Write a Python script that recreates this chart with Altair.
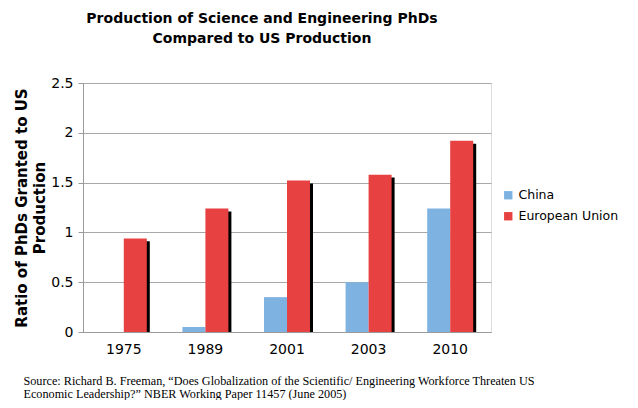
import altair as alt
import pandas as pd

years = ["1975", "1989", "2001", "2003", "2010"]
china = [0.0, 0.05, 0.35, 0.50, 1.24]
eu = [0.94, 1.24, 1.52, 1.58, 1.92]
series = ["China", "European Union"]
colors = ["#7eb3e1", "#e84142"]
y_ticks = [0, 0.5, 1, 1.5, 2, 2.5]
source = [
    "Source: Richard B. Freeman, \u201cDoes Globalization of the Scientific/ Engineering Workforce Threaten US",
    "Economic Leadership?\u201d NBER Working Paper 11457 (June 2005)",
]

df = pd.DataFrame({
    "year": years * 2,
    "series": [series[0]] * len(years) + [series[1]] * len(years),
    "value": china + eu,
})

x = alt.X(
    "year:N", sort=years,
    scale=alt.Scale(paddingInner=0, paddingOuter=0),
    axis=alt.Axis(
        title=source, labelAngle=0, labelFont="DejaVu Sans", labelFontSize=14,
        labelColor="#000000", labelPadding=10, domainColor="#9a9a9a", tickColor="#9a9a9a",
        ticks=False,
        titleFont="Liberation Serif", titleFontSize=12.2, titleFontWeight="normal",
        titleColor="#000000", titleAnchor="start", titleAlign="left",
        titleX=-60, titleY=52, titleBaseline="alphabetic", titleLineHeight=13,
    ),
)
y = alt.Y(
    "value:Q",
    scale=alt.Scale(domain=[0, 2.5], nice=False),
    axis=alt.Axis(
        title=["Ratio of PhDs Granted to US", "Production"], values=y_ticks, format="~g",
        labelFont="DejaVu Sans", labelFontSize=14, labelColor="#000000", labelPadding=5,
        gridColor="#a8a8a8", domainColor="#9a9a9a", tickColor="#9a9a9a", tickSize=5,
        titleFont="DejaVu Sans", titleFontSize=15, titleFontWeight="bold",
        titleColor="#000000", titlePadding=3, titleLineHeight=18,
    ),
)
color = alt.Color(
    "series:N",
    scale=alt.Scale(domain=series, range=colors),
    legend=alt.Legend(
        title=None, orient="none", legendX=419, legendY=106, symbolType="square",
        symbolSize=70, symbolStrokeWidth=0, labelFont="DejaVu Sans", labelFontSize=12.5,
        labelColor="#000000", rowPadding=8, labelOffset=4,
    ),
)

base = alt.Chart(df).encode(x=x, y=y)

shadow = base.transform_filter(alt.datum.series == series[1]).transform_calculate(
    top="datum.value - 0.03"
).mark_bar(width=23, xOffset=14.5, color="#000000").encode(y=alt.Y("top:Q"))
blue = base.transform_filter(alt.datum.series == series[0]).mark_bar(
    width=23, xOffset=-11.5
).encode(color=color)
red = base.transform_filter(alt.datum.series == series[1]).mark_bar(
    width=23, xOffset=11.5
).encode(color=color)

chart = alt.layer(shadow, blue, red).properties(
    width=408, height=249,
    autosize=alt.AutoSizeParams(type="none"),
    padding={"left": 75, "top": 75, "right": 139, "bottom": 68},
    title=alt.TitleParams(
        text=["Production of Science and Engineering PhDs", "Compared to US Production"],
        font="DejaVu Sans", fontSize=14, fontWeight="bold", color="#000000",
        anchor="middle", dx=-25, offset=30, lineHeight=20,
    ),
).configure_view(fill="#d9d9d9", strokeWidth=0).configure(background="#ffffff")

chart.save("out.html", embed_options={"renderer": "svg", "actions": False})
